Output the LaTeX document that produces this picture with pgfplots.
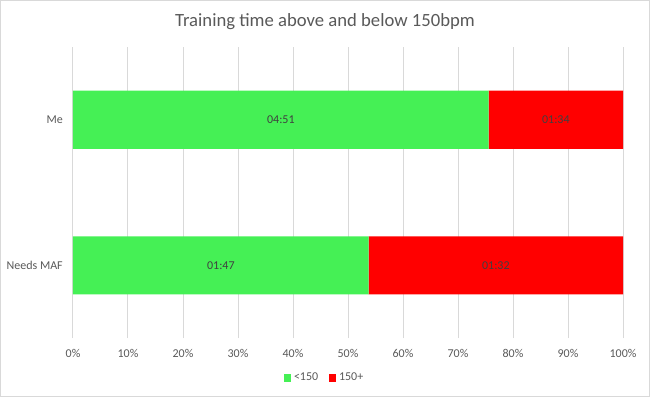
\documentclass[border=0pt]{standalone}
\usepackage{pgfplots}
\pgfplotsset{compat=1.18}
\usepackage{pgfplotstable}
\usepackage{fontspec}
\setmainfont{Carlito}
\definecolor{gbar}{RGB}{69,240,85}
\definecolor{rbar}{RGB}{255,0,0}
\definecolor{txt}{RGB}{89,89,89}
\definecolor{lab}{RGB}{64,64,64}
\definecolor{gridc}{RGB}{217,217,217}
\pgfplotstableread{
y pct lab
0 53.769 01:47
1 75.584 04:51
}\lowtab
\pgfplotstableread{
y pct lab
0 46.231 01:32
1 24.416 01:34
}\hightab
\begin{document}
\begin{tikzpicture}
\useasboundingbox (0,0) rectangle (487.5pt,297.75pt);
\draw[gridc, line width=0.75pt] (0.375pt,0.375pt) rectangle (487.125pt,297.375pt);
\node[text=txt, font=\fontsize{14pt}{16pt}\selectfont] at (243.75pt,281.25pt) {Training time above and below 150bpm};
\begin{axis}[
  at={(54.75pt,44.25pt)}, anchor=south west,
  scale only axis, width=412.5pt, height=218.25pt,
  xbar stacked, bar width=43.5pt,
  xmin=0, xmax=100, ymin=-0.5, ymax=1.5,
  xtick={0,10,...,100},
  xticklabel={\pgfmathprintnumber{\tick}\%},
  ytick={0,1}, yticklabels={Needs MAF, Me},
  major tick length=0pt,
  xmajorgrids, grid style={gridc, line width=0.75pt},
  axis lines*=left,
  x axis line style={draw=none},
  y axis line style={gridc, line width=0.75pt},
  tick label style={text=txt, font=\fontsize{9pt}{10pt}\selectfont},
  xticklabel style={anchor=center, yshift=-11.25pt, inner sep=0pt},
  yticklabel style={anchor=east, inner sep=0pt, xshift=-7.5pt},
  /pgf/number format/assume math mode=true,
  point meta=explicit symbolic,
  nodes near coords,
  every node near coord/.append style={anchor=center, text=lab, font=\fontsize{9pt}{10pt}\selectfont, inner sep=0pt},
  legend style={at={(axis description cs:0.458,-0.137)}, anchor=center, draw=none, fill=none, legend columns=2,
    font=\fontsize{9pt}{10pt}\selectfont, text=txt,
    /tikz/every even column/.append style={column sep=6pt}},
  legend image code/.code={\fill[#1] (0pt,-2.8pt) rectangle (5.6pt,2.8pt);},
]
\addplot[fill=gbar, draw=none] table[x=pct, y=y, meta=lab] {\lowtab};
\addplot[fill=rbar, draw=none] table[x=pct, y=y, meta=lab] {\hightab};
\legend{<150, 150+}
\end{axis}
\end{tikzpicture}
\end{document}
